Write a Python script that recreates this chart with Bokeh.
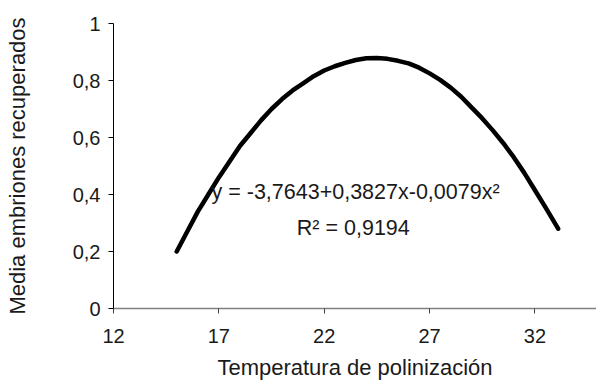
from bokeh.plotting import figure
from bokeh.models import FixedTicker, Range1d, Label
from bokeh.embed import file_html
from bokeh.resources import INLINE

# Data (fitted curve of mean embryos recovered vs. pollination temperature)
temperatura = [15, 15.5, 16, 16.5, 17, 17.5, 18, 18.5, 19, 19.5, 20, 20.5, 21, 21.5, 22, 22.5, 23, 23.5,
               24, 24.5, 25, 25.5, 26, 26.5, 27, 27.5, 28, 28.5, 29, 29.5, 30, 30.5, 31, 31.5, 32, 32.5, 33.1]
media_embriones = [0.20, 0.27, 0.34, 0.40, 0.46, 0.515, 0.57, 0.615, 0.66, 0.70, 0.735, 0.765, 0.79, 0.815,
                   0.835, 0.85, 0.862, 0.872, 0.878, 0.879, 0.876, 0.869, 0.86, 0.845, 0.825, 0.802, 0.775,
                   0.743, 0.705, 0.667, 0.625, 0.58, 0.53, 0.475, 0.415, 0.355, 0.28]

x_ticks = [12, 17, 22, 27, 32]
y_ticks = [0, 0.2, 0.4, 0.6, 0.8, 1]
y_tick_labels = ["0", "0,2", "0,4", "0,6", "0,8", "1"]

ecuacion = "y = -3,7643+0,3827x-0,0079x\u00b2"
r_cuadrado = "R\u00b2 = 0,9194"

FONT = "Liberation Sans"

p = figure(width=596, height=386, output_backend="svg", toolbar_location=None,
           x_range=Range1d(12, 34.92), y_range=Range1d(0, 1),
           min_border_left=113, min_border_right=0, min_border_top=23, min_border_bottom=78)
p.outline_line_color = None
p.xgrid.visible = False
p.ygrid.visible = False
p.background_fill_color = "white"
p.border_fill_color = "white"

p.line(temperatura, media_embriones, line_color="black", line_width=4.5,
       line_cap="round", line_join="round")

# Axes
p.xaxis.ticker = FixedTicker(ticks=x_ticks)
p.yaxis.ticker = FixedTicker(ticks=y_ticks)
p.yaxis.major_label_overrides = {t: l for t, l in zip(y_ticks, y_tick_labels)}

for ax in (p.xaxis[0], p.yaxis[0]):
    ax.major_tick_in = 0
    ax.major_tick_out = 5
    ax.minor_tick_line_color = None
    ax.major_label_text_font = FONT
    ax.major_label_text_font_size = "20px"
    ax.major_label_text_color = "#1a1a1a"
    ax.axis_label_text_font = FONT
    ax.axis_label_text_font_style = "normal"
    ax.axis_label_text_color = "#1a1a1a"
    ax.axis_label_text_font_size = "22px"

p.xaxis.axis_line_color = "#808080"
p.xaxis.axis_line_width = 1.5
p.xaxis.major_tick_line_color = "#404040"
p.xaxis.major_label_standoff = 15
p.xaxis.axis_label = "Temperatura de polinización"
p.xaxis.axis_label_standoff = 9

p.yaxis.axis_line_color = "black"
p.yaxis.major_tick_line_color = "black"
p.yaxis.major_label_standoff = 8
p.yaxis.axis_label = "Media embriones recuperados"
p.yaxis.axis_label_standoff = 40

# Equation annotations
p.add_layout(Label(x=16.65, y=0.409, text=ecuacion, text_font=FONT, text_font_size="21.5px",
                   text_color="#1a1a1a", text_baseline="alphabetic", text_align="left"))
p.add_layout(Label(x=20.7, y=0.283, text=r_cuadrado, text_font=FONT, text_font_size="21.5px",
                   text_color="#1a1a1a", text_baseline="alphabetic", text_align="left"))

open("out.html", "w").write(file_html(p, INLINE))
